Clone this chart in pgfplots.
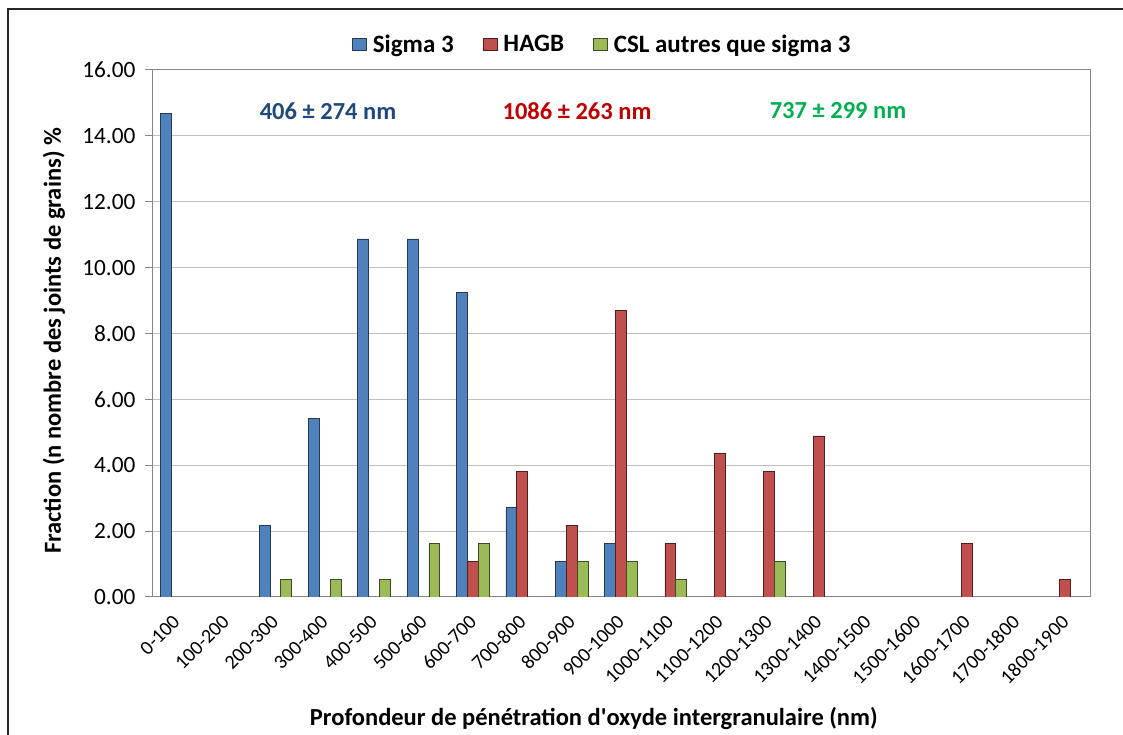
\documentclass[border=0pt]{standalone}
\usepackage{pgfplots}
\pgfplotsset{compat=1.18}
\usepackage{fontspec}
\setmainfont{Carlito}

\definecolor{sblue}{HTML}{4F81BD}
\definecolor{sred}{HTML}{C0504D}
\definecolor{sgreen}{HTML}{9BBB59}
\definecolor{tblue}{HTML}{1F497D}
\definecolor{tred}{HTML}{C00000}
\definecolor{tgreen}{HTML}{00B050}
\definecolor{axgray}{HTML}{868686}

\pgfplotsset{
  sqleg/.style={legend image code/.code={\draw[##1] (0pt,-6pt) rectangle (14pt,6pt);}},
}

\begin{document}
\begin{tikzpicture}
\path[use as bounding box] (0pt,0pt) rectangle (1123pt,735pt);
% chart border (top and left visible)
\draw[black!85, line width=1.6pt] (8pt,0pt) -- (8pt,726pt) -- (1123pt,726pt);

\begin{axis}[
    at={(152pt,138pt)}, anchor=south west,
    scale only axis, width=938pt, height=527pt,
    xmin=-0.5, xmax=18.5, ymin=0, ymax=16,
    axis line style={axgray, line width=1pt},
    ytick={0,2,...,16},
    /pgf/number format/fixed, /pgf/number format/fixed zerofill,
    /pgf/number format/precision=2, /pgf/number format/assume math mode=true,
    yticklabel style={font=\fontsize{23.3}{27}\selectfont, xshift=-6pt},
    ymajorgrids, grid style={gray!50, line width=1pt},
    xtick={0,...,18},
    xticklabels={0-100,100-200,200-300,300-400,400-500,500-600,600-700,700-800,800-900,900-1000,1000-1100,1100-1200,1200-1300,1300-1400,1400-1500,1500-1600,1600-1700,1700-1800,1800-1900},
    xticklabel style={font=\fontsize{20}{24}\selectfont, rotate=45, anchor=north east, xshift=-7pt, yshift=0pt},
    x tick style={draw=none},
    extra x ticks={-0.5,0.5,...,18.5},
    extra x tick labels={},
    extra x tick style={grid=none, major tick length=7pt, tick style={draw=axgray, line width=1pt}},
    tick align=outside, ytick pos=left, xtick pos=bottom,
    y tick style={axgray, line width=1pt}, major tick length=7pt,
    xlabel={\bfseries Profondeur de pénétration d\textquotesingle oxyde intergranulaire (nm)},
    ylabel={\bfseries Fraction (n nombre des joints de grains) \%},
    label style={font=\fontsize{24.5}{29}\selectfont},
    xlabel style={at={(axis description cs:0.471,-0.2296)}, anchor=center},
    ylabel style={at={(axis description cs:-0.1045,0.486)}, anchor=center},
    legend style={draw=none, fill=none, at={(0.48,1.049)}, anchor=center,
        legend columns=-1, font=\bfseries\fontsize{25}{29}\selectfont,
        /tikz/every odd column/.append style={column sep=4pt},
        /tikz/every even column/.append style={column sep=27pt},
        nodes={inner sep=2pt}},
    legend cell align=left,
]
\addplot[ybar, bar width=10.9pt, bar shift=-10.9pt, fill=sblue, draw=sblue!45!black, line width=0.8pt, sqleg]
  coordinates {(0,14.67) (2,2.17) (3,5.43) (4,10.87) (5,10.87) (6,9.24) (7,2.72) (8,1.09) (9,1.63)};
\addlegendentry{Sigma 3}
\addplot[ybar, bar width=10.9pt, bar shift=0pt, fill=sred, draw=sred!40!black, line width=0.8pt, sqleg]
  coordinates {(6,1.09) (7,3.80) (8,2.17) (9,8.70) (10,1.63) (11,4.35) (12,3.80) (13,4.89) (16,1.63) (18,0.54)};
\addlegendentry{HAGB}
\addplot[ybar, bar width=10.9pt, bar shift=10.9pt, fill=sgreen, draw=sgreen!40!black, line width=0.8pt, sqleg]
  coordinates {(2,0.54) (3,0.54) (4,0.54) (5,1.63) (6,1.63) (8,1.09) (9,1.09) (10,0.54) (12,1.09)};
\addlegendentry{CSL autres que sigma 3}
\end{axis}

\begin{scope}[every node/.style={font=\bfseries\fontsize{24.5}{29}\selectfont}]
\node[text=tblue] at (328pt,624pt) {406 ± 274 nm};
\node[text=tred] at (577pt,624pt) {1086 ± 263 nm};
\node[text=tgreen] at (838pt,624pt) {737 ± 299 nm};
\end{scope}
\end{tikzpicture}
\end{document}
